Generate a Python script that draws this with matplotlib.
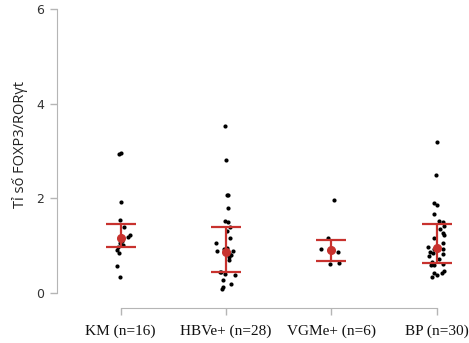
import matplotlib.pyplot as plt
import numpy as np

# groups on the x axis
groups = ['KM (n=16)', 'HBVe+ (n=28)', 'VGMe+ (n=6)', 'BP (n=30)']

# individual ratios per group, with the small sideways offset of each dot
km_vals = [2.93, 2.95, 1.93, 1.55, 1.40, 1.23, 1.19, 1.20, 1.10, 1.05, 1.01, 0.98, 0.91, 0.85, 0.58, 0.34]
km_jit = [-0.013, 0.0, 0.003, -0.004, 0.034, 0.088, 0.072, 0.0, 0.01, -0.01, 0.019, -0.023, -0.032, -0.013, -0.035, -0.007]

hbv_vals = [3.52, 2.81, 2.06, 2.07, 1.79, 1.53, 1.49, 1.40, 1.30, 1.16, 1.05, 0.96, 0.92, 0.89, 0.89, 0.87,
            0.85, 0.80, 0.75, 0.70, 0.45, 0.44, 0.40, 0.38, 0.27, 0.19, 0.12, 0.08]
hbv_jit = [-0.01, 0.0, 0.006, 0.016, 0.016, -0.01, 0.022, 0.038, 0.01, 0.038, -0.095, 0.013, -0.02, -0.082, 0.069,
           0.0, 0.03, 0.047, 0.032, 0.025, -0.057, -0.05, -0.01, 0.085, -0.025, 0.044, -0.025, -0.035]

vgm_vals = [1.96, 1.16, 0.93, 0.86, 0.61, 0.63]
vgm_jit = [0.028, -0.029, -0.099, 0.063, -0.016, 0.072]

bp_vals = [3.18, 2.49, 1.91, 1.85, 1.67, 1.52, 1.51, 1.42, 1.35, 1.26, 1.23, 1.16, 1.05, 0.98, 0.92, 0.92,
           0.87, 0.85, 0.82, 0.79, 0.72, 0.65, 0.59, 0.59, 0.61, 0.47, 0.42, 0.42, 0.34, 0.37]
bp_jit = [0.007, -0.003, -0.03, 0.0, -0.022, 0.025, 0.057, 0.073, 0.035, 0.063, 0.073, -0.03, 0.057, -0.085,
          -0.022, 0.057, -0.063, -0.038, 0.057, -0.075, 0.02, -0.045, -0.053, -0.022, 0.057, 0.073, 0.05,
          -0.022, -0.044, 0.0]

# centre value and bar ends for each group
centres = [1.16, 0.87, 0.90, 0.96]
upper = [1.45, 1.40, 1.12, 1.45]
lower = [0.98, 0.45, 0.68, 0.63]

red = '#c8322e'
grey = '#b5b5b5'

fig = plt.figure(figsize=(4.69, 3.43), dpi=100)
ax = fig.add_axes([56.7 / 469, 1 - 308 / 343, (463 - 56.7) / 469, (308 - 9) / 343])

all_vals = [km_vals, hbv_vals, vgm_vals, bp_vals]
all_jit = [km_jit, hbv_jit, vgm_jit, bp_jit]
for i in range(4):
    xs = i + np.array(all_jit[i])
    ax.scatter(xs, all_vals[i], s=9, color='black', zorder=2, linewidths=0)

c = np.array(centres)
yerr = np.array([c - np.array(lower), np.array(upper) - c])
ax.errorbar(range(4), centres, yerr=yerr, fmt='o', color=red, ms=5.5,
            elinewidth=1.6, capsize=11, capthick=1.6, zorder=3)

ax.set_ylim(-0.317, 6.0)
ax.set_xlim(-0.607, 3.25)

for s in ['top', 'right']:
    ax.spines[s].set_visible(False)
ax.spines['left'].set_bounds(0, 6)
ax.spines['bottom'].set_bounds(0, 3)
ax.spines['left'].set_color(grey)
ax.spines['bottom'].set_color(grey)

ax.set_yticks([0, 2, 4, 6])
ax.set_xticks(range(4))
ax.set_xticklabels(groups, fontfamily='Liberation Serif', fontsize=11, color='#111111')
ax.tick_params(axis='y', length=5, width=1, color=grey, labelsize=9, labelcolor='#333333', pad=4)
ax.tick_params(axis='x', length=5, width=1, color=grey, pad=7)

fig.text(20 / 469, 1 - 144.5 / 343, 'Tỉ số FOXP3/RORγt', rotation=90, ha='center', va='center',
         fontsize=10.5, fontfamily='Open Sans', color='#222222')

fig.savefig('out.png', dpi=100)
